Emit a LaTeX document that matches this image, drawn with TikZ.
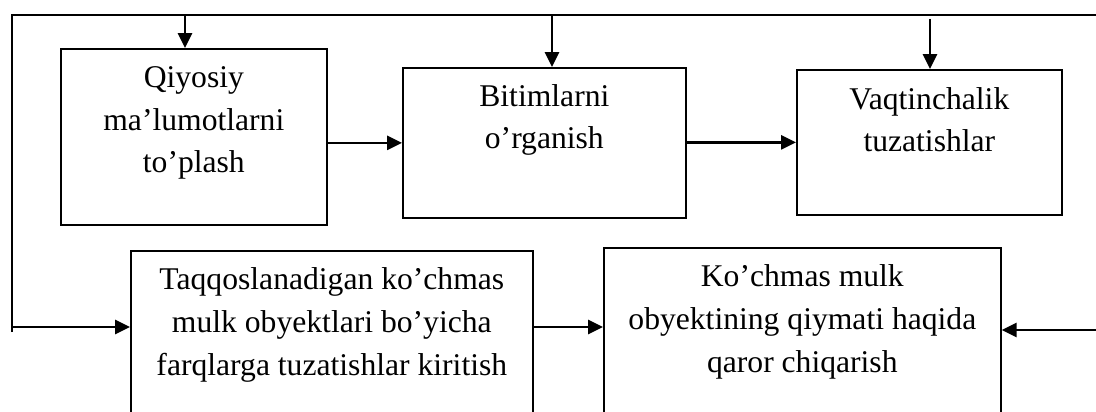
\documentclass[tikz,border=0pt]{standalone}
\usepackage{fontspec}
\setmainfont{Liberation Serif}
\usetikzlibrary{arrows.meta,calc}
\newcommand{\ArrHead}{Triangle[length=8.5pt,width=8pt]}
\tikzset{blok/.style={draw,line width=1pt,inner sep=0pt,anchor=north west}}
\tikzset{matn/.style={align=center,font=\fontsize{18}{24.2}\selectfont,inner sep=0pt,anchor=base}}
\tikzset{arr/.style={line width=1.4pt,-{\ArrHead}}}
\tikzset{ramka/.style={line width=1pt}}

\begin{document}
\begin{tikzpicture}[x=0.02cm,y=-0.02cm]
\useasboundingbox (0,0) rectangle (1096,412);
\clip (0,0) rectangle (1096,412);
% bloklar
\node[blok,minimum width=5.32cm,minimum height=3.52cm] (qiyos) at (60,48) {};
\node[blok,minimum width=5.66cm,minimum height=3.00cm] (bitim) at (402,67) {};
\node[blok,minimum width=5.30cm,minimum height=2.90cm] (vaqt) at (796,69) {};
\node[blok,minimum width=8.04cm,minimum height=3.90cm] (taqqos) at (130,250) {};
\node[blok,minimum width=7.94cm,minimum height=3.96cm] (qaror) at (603,247) {};
% matn (base = oxirgi qator)
\node[matn] at ($(qiyos.north)+(0,125)$) {Qiyosiy\\ma’lumotlarni\\to’plash};
\node[matn] at ($(bitim.north)+(0,82)$) {Bitimlarni\\o’rganish};
\node[matn] at ($(vaqt.north)+(0,83)$) {Vaqtinchalik\\tuzatishlar};
\node[matn] at ($(taqqos.north)+(0,125)$) {Taqqoslanadigan ko’chmas\\mulk obyektlari bo’yicha\\farqlarga tuzatishlar kiritish};
\node[matn] at ($(qaror.north)+(0,125)$) {Ko’chmas mulk\\obyektining qiymati haqida\\qaror chiqarish};
% ramka
\coordinate (tl) at (12,15);\coordinate (tr) at (1096,15);\coordinate (bl) at (12,332);
\draw[ramka](bl)--(tl)--(tr);
\coordinate (q1) at (185,15);\coordinate (q2) at (552,15);\coordinate (q3) at (930,19);
\draw[arr](q1)--(q1 |- qiyos.north);\draw[arr](q2)--(q2 |- bitim.north);\draw[arr](q3)--(q3 |- vaqt.north);
% strelkalar
\draw[arr](qiyos.east |- bitim.west)--(bitim.west);\draw[arr](bitim.east |- vaqt.west)--(vaqt.west);
\coordinate (r) at (0,327);\coordinate (kir) at (1096,330);
\draw[arr](bl |- r)--(taqqos.west |- r);\draw[arr](taqqos.east |- r)--(qaror.west |- r);
\draw[arr](kir)--(kir -| qaror.east);
\end{tikzpicture}
\end{document}
